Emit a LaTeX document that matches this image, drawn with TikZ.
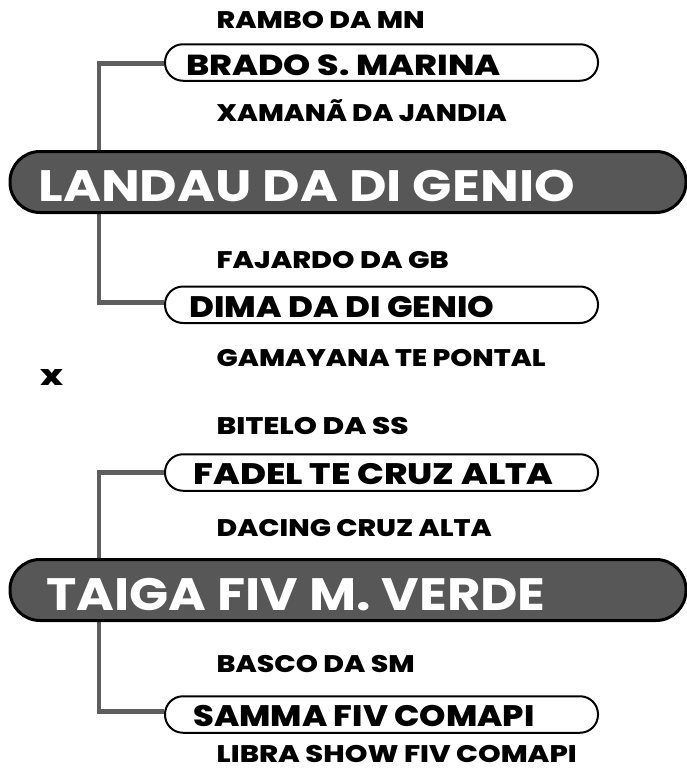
\documentclass[tikz,border=0pt]{standalone}
\usepackage{fontspec}
\setmainfont{Poppins}
\newfontfamily\heavy{Poppins}[UprightFont=* ExtraBold]
\usepackage{graphicx}
\usetikzlibrary{backgrounds}
\definecolor{boxgray}{HTML}{575757}
\definecolor{linegray}{HTML}{5E5E5E}
\newcommand\fittext[3]{\resizebox{#1pt}{#2pt}{\raisebox{0pt}[\fontcharht\font`H][0pt]{#3}}}
\newcommand\lowerby[2]{\raisebox{-#1pt}[\height][0pt]{#2}}
\begin{document}
\begin{tikzpicture}[x=1pt,y=-1pt,
  sub/.style={inner sep=0pt, anchor=base west, font=\heavy, text=black},
  mainbox/.style={draw=black, line width=3pt, fill=boxgray, rounded corners=30pt,
    minimum height=61pt, inner ysep=0pt, anchor=west, font=\bfseries, text=white},
  sirebox/.style={draw=black, line width=2pt, fill=white, rounded corners=18pt,
    minimum height=36.5pt, inner ysep=0pt, anchor=west, font=\heavy, text=black},
  conn/.style={draw=linegray, line width=4.5pt, line join=miter}]
\useasboundingbox (0,0) rectangle (687,771);

% ---------- upper pedigree ----------
\node[sub] (rambo) at (216.5,28.5) {\fittext{208}{17}{RAMBO DA MN}};
\node[sirebox, inner xsep=21.5pt] (brado) at (164,62.5)
  {\makebox[390pt][l]{\lowerby{2.5}{\fittext{314}{20.5}{BRADO S. MARINA}}}};
\node[sub] (xamana) at (216.5,121) {\fittext{290}{17}{XAMANÃ DA JANDIA}};
\node[mainbox, inner xsep=28.5pt] (landau) at (8.5,182)
  {\makebox[619pt][l]{\lowerby{3.5}{\fittext{536}{31}{LANDAU DA DI GENIO}}}};
\node[sub] (fajardo) at (216.5,268.5) {\fittext{232}{17}{FAJARDO DA GB}};
\node[sirebox, inner xsep=24.5pt] (dima) at (164,304.75)
  {\makebox[384pt][l]{\lowerby{2.25}{\fittext{305}{21}{DIMA DA DI GENIO}}}};
\node[sub] (gamayana) at (216.5,366) {\fittext{329}{17}{GAMAYANA TE PONTAL}};

% ---------- cross ----------
\node[inner sep=0pt, anchor=base west, font=\heavy] (cross) at (40,385)
  {\resizebox{23pt}{16pt}{x}};

% ---------- lower pedigree ----------
\node[sub] (bitelo) at (216.5,434) {\fittext{192}{17}{BITELO DA SS}};
\node[sirebox, inner xsep=28.5pt] (fadel) at (164,472.5)
  {\makebox[376pt][l]{\lowerby{1.5}{\fittext{360}{21}{FADEL TE CRUZ ALTA}}}};
\node[sub] (dacing) at (216.5,536) {\fittext{275}{17}{DACING CRUZ ALTA}};
\node[mainbox, inner xsep=36.5pt] (taiga) at (8.5,590)
  {\makebox[603pt][l]{\lowerby{4}{\fittext{499}{32}{TAIGA FIV M. VERDE}}}};
\node[sub] (basco) at (216.5,672) {\fittext{198}{17}{BASCO DA SM}};
\node[sirebox, inner xsep=28.5pt] (samma) at (164,714.5)
  {\makebox[376pt][l]{\lowerby{1.5}{\fittext{341}{21}{SAMMA FIV COMAPI}}}};
\node[sub] (libra) at (216.5,762) {\fittext{360}{17}{LIBRA SHOW FIV COMAPI}};

% ---------- connectors ----------
\coordinate (spine) at (99,0);
\begin{scope}[on background layer]
  \fill[white] (0,0) rectangle (687,771);
  \draw[conn] ([yshift=-1pt]brado.west) -- ([yshift=-1pt]brado.west -| spine)
     -- ([yshift=2.25pt]dima.west -| spine) -- ([yshift=2.25pt]dima.west);
  \draw[conn] (fadel.west) -- (fadel.west -| spine)
     -- ([yshift=3pt]samma.west -| spine) -- ([yshift=3pt]samma.west);
\end{scope}
\end{tikzpicture}
\end{document}
